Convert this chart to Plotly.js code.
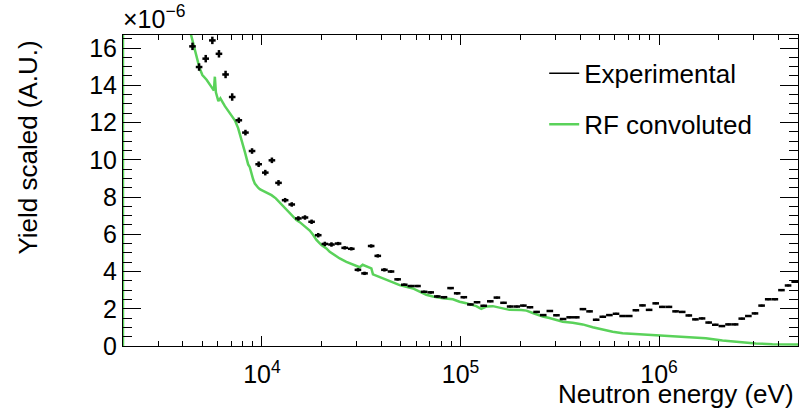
<!DOCTYPE html>
<html>
<head>
<meta charset="utf-8">
<script src="https://cdn.plot.ly/plotly-3.0.1.min.js"></script>
<style>html,body{margin:0;padding:0;background:#fff;}#chart{width:800px;height:408px;}</style>
</head>
<body>
<div id="chart"></div>
<script>
// Histogram binning of the experimental yield: 30 log bins per decade, first shown bin index 109
const binsPerDecade = 30;
const firstBin = 109;
// Experimental yield (x1e-6), one value per bin
const expYield = [16.09, 14.98, 15.43, 16.41, 15.69, 14.58, 13.37, 12.12, 11.46, 10.47,
  9.76, 9.31, 9.97, 8.76, 7.83, 7.60, 6.85, 6.90, 6.67, 5.95,
  5.48, 5.45, 5.50, 5.27, 5.22, 4.09, 3.90, 5.37, 4.84, 4.09,
  4.00, 3.58, 3.29, 3.22, 3.22, 2.91, 2.88, 2.66, 2.62, 3.11,
  2.83, 2.62, 2.23, 2.35, 2.16, 2.40, 2.60, 2.32, 2.12, 2.12,
  2.17, 2.08, 1.83, 1.66, 1.88, 1.65, 1.45, 1.54, 1.54, 1.98,
  1.86, 1.41, 1.57, 1.66, 1.73, 1.61, 1.61, 1.92, 2.18, 1.94,
  2.29, 2.10, 2.10, 1.86, 1.83, 1.64, 1.43, 1.48, 1.26, 1.14,
  1.07, 1.16, 1.16, 1.47, 1.61, 1.75, 2.17, 2.51, 2.51, 3.00,
  3.25, 3.45];
const expErr = [0.20, 0.20, 0.20, 0.20, 0.20, 0.20, 0.20,
  0.15, 0.15, 0.15, 0.15, 0.15, 0.15, 0.15,
  0.12, 0.12, 0.12, 0.12, 0.12, 0.12, 0.12, 0.12,
  0.09, 0.09, 0.09, 0.09, 0.09, 0.09, 0.09, 0.09,
  0.06, 0.06, 0.06, 0.06, 0.06, 0.06, 0.06, 0.06, 0.06, 0.06, 0.06, 0.06,
  0.03, 0.03, 0.03, 0.03, 0.03, 0.03, 0.03, 0.03, 0.03, 0.03,
  0.03, 0.03, 0.03, 0.03, 0.03, 0.03, 0.03, 0.03, 0.03, 0.03,
  0.03, 0.03, 0.03, 0.03, 0.03, 0.03, 0.03, 0.03, 0.03, 0.03,
  0.03, 0.03, 0.03, 0.03, 0.03, 0.03, 0.03, 0.03, 0.03, 0.03,
  0.03, 0.03, 0.03, 0.03, 0.03, 0.03, 0.03, 0.03, 0.03, 0.03];

// RF convoluted curve (energy in eV, yield x1e-6)
const rfEnergy = [1995, 1995, 2430, 3063, 3645, 4091, 4595, 4730, 4840, 5010, 5260, 5575, 5725, 5790, 5860,
  6030, 6170, 6505, 6890, 7300, 7585, 7895, 8200, 8520, 8685, 9025, 9205, 9565, 9750,
  10130, 10540, 11170, 11740, 12290, 13030, 13800, 14920, 15500, 16430, 17400, 18080, 18810,
  19930, 21110, 21940, 23710, 24640, 26620, 29890, 31050, 32150, 32910, 34190, 35560, 36230,
  39150, 42310, 45670, 49360, 53350, 57590, 62230, 67250, 72600, 81510, 91520, 98900,
  106900, 113300, 120000, 127200, 134800, 145500, 154200, 162700, 176500, 202100, 214900,
  231200, 259600, 280500, 303100, 327200, 367400, 412500, 463200, 520000, 583900, 655600,
  736100, 859800, 1003000, 1170000, 1419000, 1722000, 2087000, 2533000, 3073000, 3725000,
  4520000, 5016000];
const rfYield = [0, 40, 32, 25, 20.5, 18.0, 16.0, 15.35, 14.95, 14.55, 14.3, 13.9, 13.72, 14.46, 13.62,
  13.15, 13.3, 12.88, 12.48, 12.12, 11.7, 11.1, 10.42, 9.75, 9.6, 8.95, 8.72, 8.5, 8.42,
  8.33, 8.25, 8.1, 7.93, 7.7, 7.42, 7.13, 6.76, 6.65, 6.42, 6.2, 5.97, 5.7,
  5.42, 5.24, 5.06, 4.83, 4.7, 4.52, 4.27, 4.23, 4.36, 4.32, 4.27, 4.17, 3.85,
  3.72, 3.55, 3.42, 3.27, 3.18, 3.09, 2.92, 2.75, 2.66, 2.56, 2.51, 2.38,
  2.3, 2.24, 2.14, 2.0, 2.12, 2.14, 2.08, 2.06, 1.94, 1.93, 1.9,
  1.77, 1.58, 1.5, 1.38, 1.3, 1.25, 1.16, 1.01, 0.88, 0.77, 0.68,
  0.65, 0.63, 0.59, 0.54, 0.5, 0.42, 0.3, 0.21, 0.14, 0.1,
  0.07, 0.08];

const xTickVals = [1e4, 1e5, 1e6];
const xTickText = ['10<sup>4</sup>', '10<sup>5</sup>', '10<sup>6</sup>'];
const seriesNames = ['Experimental', 'RF convoluted'];
const rfColor = '#5ad25a';
const FONT = 'Liberation Sans, Arial, Helvetica, sans-serif';

// minor ticks at 2..9 x 10^n within the axis range
const xMinor = [];
for (let d = 3; d <= 6; d++) for (let m = 2; m <= 9; m++) xMinor.push(m * Math.pow(10, d));

const expX = [], errPlus = [], errMinus = [];
for (let i = 0; i < expYield.length; i++) {
  const k = firstBin + i;
  const lo = Math.pow(10, k / binsPerDecade);
  const hi = Math.pow(10, (k + 1) / binsPerDecade);
  const c = Math.pow(10, (k + 0.5) / binsPerDecade);
  expX.push(c); errPlus.push(hi - c); errMinus.push(c - lo);
}

const traces = [
  {
    x: rfEnergy, y: rfYield, type: 'scatter', mode: 'lines',
    line: {color: rfColor, width: 2.5}, showlegend: false, hoverinfo: 'skip'
  },
  {
    x: expX, y: expYield, type: 'scatter', mode: 'markers',
    marker: {color: '#000', size: 2, symbol: 'square'},
    error_x: {type: 'data', symmetric: false, array: errPlus, arrayminus: errMinus, color: '#000', thickness: 2.5, width: 0},
    error_y: {type: 'data', array: expErr, color: '#000', thickness: 2.5, width: 0},
    showlegend: false
  },
  {x: [null], y: [null], type: 'scatter', mode: 'lines', name: seriesNames[0], legendgroup: 'a',
   line: {color: '#000', width: 1.5}},
  {x: [null], y: [null], type: 'scatter', mode: 'lines', name: seriesNames[1], legendgroup: 'b',
   line: {color: rfColor, width: 2.5}}
];

const layout = {
  width: 800, height: 408,
  margin: {l: 123, r: 2, t: 35, b: 62},
  paper_bgcolor: '#fff', plot_bgcolor: '#fff',
  font: {family: FONT, size: 25, color: '#000'},
  showlegend: true,
  legend: {x: 0.624, y: 0.952, xanchor: 'left', yanchor: 'top', bgcolor: 'rgba(0,0,0,0)',
    font: {family: FONT, size: 26, color: '#000'}, tracegroupgap: 14, traceorder: 'grouped'},
  xaxis: {
    type: 'log', range: [3.3, 6.7], showgrid: false, zeroline: false,
    showline: true, linecolor: '#000', linewidth: 1, mirror: 'ticks',
    ticks: 'inside', ticklen: 10, tickwidth: 1, tickcolor: '#000',
    tickmode: 'array', tickvals: xTickVals, ticktext: xTickText,
    tickfont: {family: FONT, size: 25, color: '#000'}, ticklabelstandoff: 6,
    minor: {tickmode: 'array', tickvals: xMinor, ticks: 'inside', ticklen: 5, tickcolor: '#000', tickwidth: 1, showgrid: false}
  },
  yaxis: {
    range: [0, 16.7], showgrid: false, zeroline: false,
    showline: true, linecolor: '#000', linewidth: 1, mirror: 'ticks',
    ticks: 'inside', ticklen: 18, tickwidth: 1, tickcolor: '#000',
    dtick: 2, tick0: 0,
    tickfont: {family: FONT, size: 25, color: '#000'},
    minor: {dtick: 0.5, ticks: 'inside', ticklen: 9, tickcolor: '#000', tickwidth: 1, showgrid: false}
  },
  annotations: [
    {text: 'Neutron energy (eV)', xref: 'paper', yref: 'paper', x: 0.997, y: -0.155,
     xanchor: 'right', yanchor: 'middle', showarrow: false, font: {family: FONT, size: 26, color: '#000'}},
    {text: 'Yield scaled (A.U.)', xref: 'paper', yref: 'paper', x: -0.14, y: 0.99,
     xanchor: 'center', yanchor: 'top', textangle: -90, showarrow: false, font: {family: FONT, size: 26, color: '#000'}},
    {text: '×10<sup>−6</sup>', xref: 'paper', yref: 'paper', x: -0.003, y: 1.0,
     xanchor: 'left', yanchor: 'bottom', showarrow: false, font: {family: FONT, size: 25, color: '#000'}}
  ]
};

Plotly.newPlot('chart', traces, layout, {staticPlot: true, displayModeBar: false});
</script>
</body>
</html>
